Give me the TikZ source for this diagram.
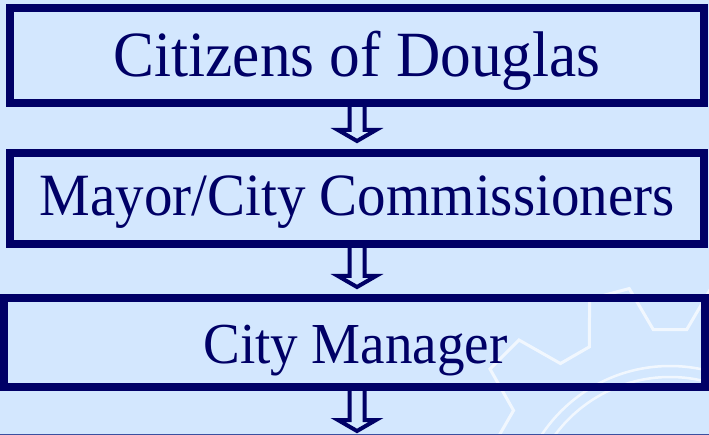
\documentclass[tikz,border=0pt]{standalone}
\usepackage{fontspec}
\setmainfont{Liberation Serif}[FakeStretch=0.95]
\usetikzlibrary{calc}
\definecolor{bgblue}{RGB}{211,231,254}
\definecolor{navy}{RGB}{0,0,102}
\definecolor{edgeblue}{RGB}{60,80,160}
\newcommand{\blockarr}[2]{%
  \draw[arrowline] let \p1=(#1), \p2=(#2) in
    (\x1-7.5pt,\y1) -- (\x1-7.5pt,\y2+11pt) -- (\x1-19pt,\y2+11pt) -- (\x1,\y2)
    -- (\x1+19pt,\y2+11pt) -- (\x1+7.5pt,\y2+11pt) -- (\x1+7.5pt,\y1);%
}
\begin{document}
\begin{tikzpicture}[x=1pt,y=-1pt,
  boxframe/.style={draw=navy, line width=8pt, inner sep=0pt, fill=none},
  lbl/.style={text=navy, inner sep=0pt, anchor=base},
  arrowline/.style={draw=navy, line width=4pt, line join=miter, miter limit=10},
  gearline/.style={draw=white, line width=3pt, opacity=0.7, line join=miter}]
\useasboundingbox (0,0) rectangle (709,435);
\fill[bgblue] (0,0) rectangle (709,435);
\begin{scope}
\clip (0,0) rectangle (709,435);
\begin{scope}[shift={(670,520)}]
\draw[gearline] (-100:235)
  \foreach \k in {0,...,11}{
    -- (-100-30*\k:235) -- (-110-30*\k:235) -- (-115-30*\k:191) -- (-125-30*\k:191)
  } -- cycle;
\draw[gearline, line width=2.5pt] (0,0) circle[radius=154];
\draw[gearline, line width=2.5pt] (0,0) circle[radius=143];
\end{scope}
\end{scope}
\draw[edgeblue, line width=1.5pt] (0,434.5) -- (709,434.5);
% boxes
\node[boxframe, minimum width=694pt, minimum height=95pt] (b1) at (357,55.5) {};
\node[boxframe, minimum width=694pt, minimum height=91pt] (b2) at (357,198.5) {};
\node[boxframe, minimum width=701pt, minimum height=89pt] (b3) at (354.5,342.5) {};
% labels
\node[lbl, font=\fontsize{64.5pt}{64.5pt}\selectfont] (t1) at (357,77) {Citizens of Douglas};
\node[lbl, font=\fontsize{60pt}{60pt}\selectfont] (t2) at (357,216) {Mayor/City Commissioners};
\node[lbl, font=\fontsize{58pt}{58pt}\selectfont] (t3) at (355.5,363) {City Manager};
% arrows
\coordinate (e1) at ($(b2.north)+(0,-8)$);
\coordinate (e2) at ($(b3.north -| b2.north)+(0,-7)$);
\coordinate (e3) at (357,431);
\blockarr{b1.south}{e1}
\blockarr{b2.south}{e2}
\blockarr{b3.south -| e3}{e3}
\end{tikzpicture}
\end{document}
